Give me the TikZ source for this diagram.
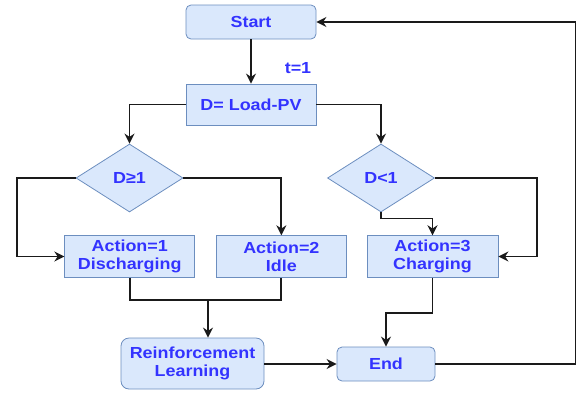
\documentclass[tikz,border=0pt]{standalone}
\usepackage{fontspec}
\setmainfont{Liberation Sans}[FakeStretch=1.12]
\usetikzlibrary{shapes.geometric,arrows.meta,calc}
\definecolor{boxfill}{HTML}{DAE8FC}
\definecolor{boxdraw}{HTML}{6C8EBF}
\definecolor{txtblue}{HTML}{3333FF}
\definecolor{linecol}{HTML}{1A1A1A}
\begin{document}
\begin{tikzpicture}[x=1pt,y=-1pt,
  every node/.style={font=\fontsize{16}{17.7}\selectfont\bfseries, text=txtblue, align=center},
  box/.style={draw=boxdraw, fill=boxfill, line width=0.8pt, inner sep=0pt},
  rbox/.style={box, rounded corners=5pt},
  dia/.style={draw=boxdraw, fill=boxfill, line width=0.8pt, diamond, aspect=1.57, inner sep=0pt, minimum width=107pt, minimum height=68pt},
  arr/.style={draw=linecol, line width=1.8pt, -{Stealth[length=10pt,width=10pt]}},
  ln/.style={draw=linecol, line width=1.8pt}
]
\useasboundingbox (0,0) rectangle (579,392);
\node[rbox, minimum width=130pt, minimum height=34pt] (start) at (251,22) {Start};
\node[box, minimum width=130pt, minimum height=41pt] (dbox) at (251,104.5) {D= Load-PV};
\node (t1) at (298,68) {t=1};
\node[dia] (dia1) at (129.5,178) {D≥1};
\node[dia] (dia2) at (381,178) {D<1};
\node[box, minimum width=130pt, minimum height=41.6pt] (a1) at (129.75,256.5) {Action=1\\Discharging};
\node[box, minimum width=130pt, minimum height=41.6pt] (a2) at (281.35,256.5) {Action=2\\Idle};
\node[box, minimum width=131pt, minimum height=41.6pt] (a3) at (432.5,256.5) {Action=3\\Charging};
\node[rbox, minimum width=143pt, minimum height=51pt, rounded corners=8pt] (rl) at (192.5,363.5) {Reinforcement\\Learning};
\node[rbox, minimum width=98pt, minimum height=34pt] (end) at (386,364) {End};
\coordinate (m) at (208,300);

\draw[arr] (start.south) -- (dbox.north);
\draw[arr] (dbox.west) -| (dia1.north);
\draw[arr] (dbox.east) -| (dia2.north);
\draw[arr] (dia1.west) -- ++(-59,0) |- (a1.west);
\draw[arr] (dia1.east) -| (a2.north);
\draw[arr] (dia2.east) -- ++(102,0) |- (a3.east);
\draw[arr] (dia2.south) -- ++(0,6) -| (a3.north);
\draw[ln] (a1.south) -- (a1.south |- m) -- (a2.south |- m) -- (a2.south);
\draw[arr] (m) -- (m |- rl.north);
\draw[arr] (a3.south) -- ++(0,35.4) -| (end.north);
\draw[arr] (rl.east |- end.west) -- (end.west);
\draw[arr] (end.east) -- ++(140,0) |- (start.east);
\end{tikzpicture}
\end{document}
